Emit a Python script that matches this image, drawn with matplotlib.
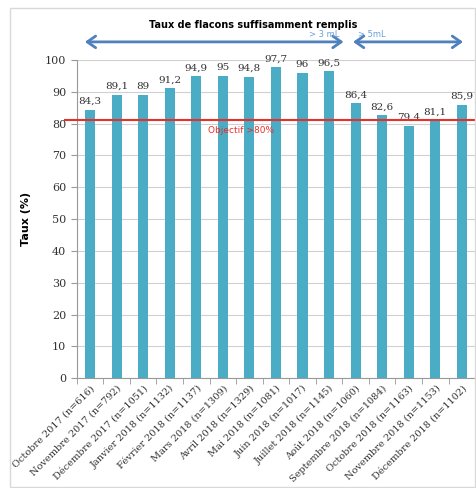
import numpy as np
import matplotlib.pyplot as plt
from matplotlib.patches import Rectangle

## Data
months = ["Octobre 2017 (n=616)", "Novembre 2017 (n=792)", "Décembre 2017 (n=1051)",
          "Janvier 2018 (n=1132)", "Février 2018 (n=1137)", "Mars 2018 (n=1309)",
          "Avril 2018 (n=1329)", "Mai 2018 (n=1081)", "Juin 2018 (n=1017)",
          "Juillet 2018 (n=1145)", "Août 2018 (n=1060)", "Septembre 2018 (n=1084)",
          "Octobre 2018 (n=1163)", "Novembre 2018 (n=1153)", "Décembre 2018 (n=1102)"]
taux = [84.3, 89.1, 89, 91.2, 94.9, 95, 94.8, 97.7, 96, 96.5, 86.4, 82.6, 79.4, 81.1, 85.9]
objectif = 81

serif = "DejaVu Serif"
bar_col = "#4bacc6"
arrow_col = "#4f81bd"

fig = plt.figure(figsize=(4.77, 4.88), dpi=100)
ax = fig.add_axes([0.161, 0.225, 0.835, 0.652])

x = np.arange(len(months))
ax.bar(x, taux, width=0.38, color=bar_col, zorder=2)
for xi, v in zip(x, taux):
    ax.text(xi, v + 1.2, str(v).replace(".", ","), ha="center", va="bottom",
            fontsize=7.5, family=serif, color="#333333")

ax.set_xlim(-0.5, len(months) - 0.5)
ax.set_ylim(0, 100)
ax.set_yticks(range(0, 101, 10))
ax.yaxis.grid(True, color="#d0d0d0", lw=0.8, zorder=0)
for s in ["top", "right"]:
    ax.spines[s].set_visible(False)
ax.spines["left"].set_color("#999999")
ax.spines["bottom"].set_color("#999999")
ax.tick_params(axis="y", labelsize=8, colors="#999999", labelcolor="#333333", length=4)
for lab in ax.get_yticklabels():
    lab.set_family(serif)

ax.set_xticks(x)
ax.set_xticklabels(months, rotation=45, ha="right", rotation_mode="anchor",
                   fontsize=7, family=serif, color="#333333")
ax.tick_params(axis="x", length=0, pad=4)
ax.set_xticks(np.arange(-0.5, len(months), 1), minor=True)
ax.tick_params(axis="x", which="minor", length=4, color="#999999")

ax.set_ylabel("Taux (%)", fontsize=8, fontweight="bold", labelpad=10)

# objective line
ax.plot([-0.95, len(months) - 0.5], [objectif, objectif], color="#e8302a", lw=1.5,
        zorder=3, clip_on=False)
ax.text(5.7, objectif - 1.8, "Objectif >80%", color="#e8302a", fontsize=6.5,
        ha="center", va="top")

# arrows for the two thresholds
ax.annotate("", xy=(-0.3, 105.7), xytext=(9.65, 105.7), annotation_clip=False,
            arrowprops=dict(arrowstyle="<->,head_length=0.5,head_width=0.35",
                            color=arrow_col, lw=2, mutation_scale=12))
ax.annotate("", xy=(9.8, 105.7), xytext=(14.15, 105.7), annotation_clip=False,
            arrowprops=dict(arrowstyle="<->,head_length=0.5,head_width=0.35",
                            color=arrow_col, lw=2, mutation_scale=12))
ax.text(8.8, 106.6, "> 3 mL", color="#6a9fd8", fontsize=6, ha="center", va="bottom")
ax.text(10.6, 106.6, "> 5mL", color="#6a9fd8", fontsize=6, ha="center", va="bottom")

fig.text(0.53, 0.949, "Taux de flacons suffisamment remplis", ha="center", va="center",
         fontsize=7, fontweight="bold")

# outer chart frame
fig.patches.append(Rectangle((10 / 477, 0.002), 0.975, 0.982, fill=False,
                             edgecolor="#d9d9d9", lw=1, transform=fig.transFigure))

fig.savefig("out.png", dpi=100)
